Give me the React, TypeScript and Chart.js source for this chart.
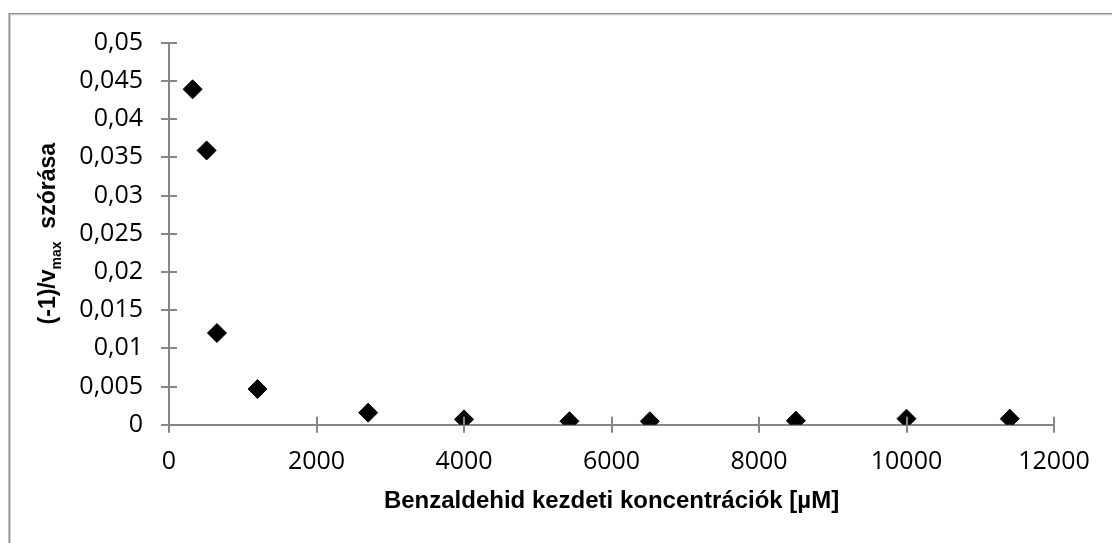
import React, { useEffect, useRef } from "react";
import { Chart, registerables } from "chart.js";

Chart.register(...registerables);

// ---- data ----
const concentrations = [320, 510, 650, 1200, 2700, 4000, 5430, 6520, 8500, 10000, 11400];
const deviations = [0.0439, 0.0359, 0.012, 0.00467, 0.00157, 0.0007, 0.00045, 0.00045, 0.00052, 0.00079, 0.00078];
const xTickValues = [0, 2000, 4000, 6000, 8000, 10000, 12000];
const yTickValues = [0, 0.005, 0.01, 0.015, 0.02, 0.025, 0.03, 0.035, 0.04, 0.045, 0.05];
const xTitle = "Benzaldehid kezdeti koncentrációk [µM]";
const yTitlePre = "(-1)/v";
const yTitleSub = "max";
const yTitlePost = "  szórása";

const GRAY = "#878787";
const W = 1112;
const H = 543;

const fmtY = (v: number) => String(Number(v.toFixed(4))).replace(".", ",");

const borderPlugin = {
  id: "outerBorder",
  beforeDraw(chart: any) {
    const ctx = chart.ctx;
    ctx.save();
    ctx.strokeStyle = "#8c8c8c";
    ctx.lineWidth = 1.5;
    ctx.beginPath();
    ctx.moveTo(9.25, H + 5);
    ctx.lineTo(9.25, 13.75);
    ctx.lineTo(W + 5, 13.75);
    ctx.stroke();
    ctx.strokeStyle = "#d9d9d9";
    ctx.lineWidth = 1;
    ctx.beginPath();
    ctx.moveTo(10.5, H + 5);
    ctx.lineTo(10.5, 15);
    ctx.lineTo(W + 5, 15);
    ctx.stroke();
    ctx.restore();
  },
};

const innerTicksPlugin = {
  id: "innerTicks",
  afterDraw(chart: any) {
    const ctx = chart.ctx;
    const xs = chart.scales.x;
    const ys = chart.scales.y;
    const area = chart.chartArea;
    ctx.save();
    ctx.strokeStyle = GRAY;
    ctx.lineWidth = 2;
    ctx.beginPath();
    xTickValues.forEach((v) => {
      const px = Math.round(xs.getPixelForValue(v));
      ctx.moveTo(px, area.bottom);
      ctx.lineTo(px, area.bottom - 8);
    });
    yTickValues.forEach((v) => {
      const py = Math.round(ys.getPixelForValue(v));
      ctx.moveTo(area.left, py);
      ctx.lineTo(area.left + 8, py);
    });
    ctx.stroke();
    ctx.restore();
  },
};

const yTitlePlugin = {
  id: "yTitleSub",
  afterDraw(chart: any) {
    const ctx = chart.ctx;
    const { top, bottom } = chart.chartArea;
    const main = "bold 23px 'Liberation Sans', Arial, sans-serif";
    const sub = "bold 14px 'Liberation Sans', Arial, sans-serif";
    ctx.save();
    ctx.translate(55, (top + bottom) / 2);
    ctx.rotate(-Math.PI / 2);
    ctx.fillStyle = "#000";
    ctx.textBaseline = "alphabetic";
    ctx.textAlign = "left";
    ctx.font = main;
    const w1 = ctx.measureText(yTitlePre).width;
    const w3 = ctx.measureText(yTitlePost).width;
    ctx.font = sub;
    const w2 = ctx.measureText(yTitleSub).width;
    let x = -(w1 + w2 + w3) / 2;
    ctx.font = main;
    ctx.fillText(yTitlePre, x, 0);
    x += w1;
    ctx.font = sub;
    ctx.fillText(yTitleSub, x, 6);
    x += w2;
    ctx.font = main;
    ctx.fillText(yTitlePost, x, 0);
    ctx.restore();
  },
};

export default function App() {
  const ref = useRef<HTMLCanvasElement | null>(null);

  useEffect(() => {
    document.body.style.margin = "0";
    const canvas = ref.current;
    if (!canvas) return;
    const tickFont = { family: "'Open Sans', 'Noto Sans', sans-serif", size: 25 };
    const chart = new Chart(canvas, {
      type: "scatter",
      data: {
        datasets: [
          {
            data: concentrations.map((c, i) => ({ x: c, y: deviations[i] })),
            pointStyle: "rectRot",
            pointRadius: 9.5,
            pointBorderWidth: 1,
            backgroundColor: "#000",
            borderColor: "#000",
            showLine: false,
          },
        ],
      },
      options: {
        responsive: false,
        animation: false,
        devicePixelRatio: 1,
        layout: { padding: { top: 42.7, right: 58, bottom: 0, left: 0 } },
        plugins: {
          legend: { display: false },
          tooltip: { enabled: false },
        },
        scales: {
          x: {
            type: "linear",
            min: 0,
            max: 12000,
            afterBuildTicks: (scale: any) => {
              scale.ticks = xTickValues.map((v) => ({ value: v }));
            },
            afterFit: (scale: any) => {
              scale.height = H - 424.7;
            },
            ticks: {
              color: "#000",
              font: tickFont,
              padding: 14,
              maxRotation: 0,
              callback: (v: any) => String(v),
            },
            grid: {
              drawOnChartArea: false,
              drawTicks: true,
              tickLength: 8,
              color: GRAY,
              lineWidth: 2,
            },
            border: { display: true, color: GRAY, width: 2 },
            title: {
              display: true,
              text: xTitle,
              color: "#000",
              font: { family: "'Liberation Sans', Arial, sans-serif", size: 24, weight: "bold" },
              padding: { top: 0, bottom: 27 },
            },
          },
          y: {
            type: "linear",
            min: 0,
            max: 0.05,
            afterBuildTicks: (scale: any) => {
              scale.ticks = yTickValues.map((v) => ({ value: v }));
            },
            afterFit: (scale: any) => {
              scale.width = 169;
            },
            ticks: {
              color: "#000",
              font: tickFont,
              padding: 18,
              callback: (v: any) => fmtY(Number(v)),
            },
            grid: {
              drawOnChartArea: false,
              drawTicks: true,
              tickLength: 8,
              color: GRAY,
              lineWidth: 2,
            },
            border: { display: true, color: GRAY, width: 2 },
          },
        },
      },
      plugins: [borderPlugin, innerTicksPlugin, yTitlePlugin],
    } as any);
    return () => chart.destroy();
  }, []);

  return (
    <div style={{ width: W, height: H, overflow: "hidden" }}>
      <canvas ref={ref} width={W} height={H} style={{ display: "block" }} />
    </div>
  );
}
